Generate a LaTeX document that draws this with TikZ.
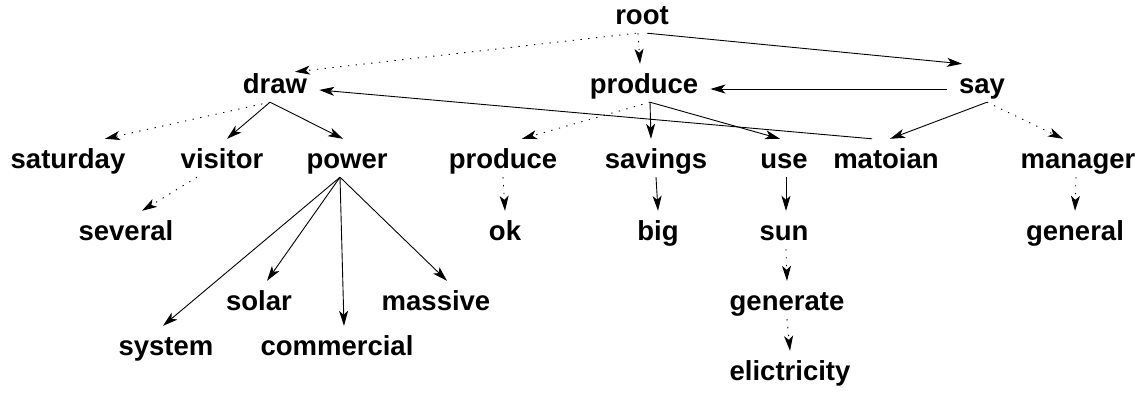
\documentclass[tikz,border=0pt]{standalone}
\usepackage{fontspec}
\setmainfont{Liberation Sans}
\usetikzlibrary{arrows.meta}
\tikzset{wd/.style={anchor=base,font=\fontsize{27.5}{30}\selectfont\bfseries,text height=20pt,text depth=0pt,minimum height=38pt,inner xsep=12pt,inner ysep=0pt},
arc/.style={-{Stealth[length=15pt,width=9pt,inset=4pt]},line width=0.9pt},
darc/.style={arc,dash pattern=on 1.3pt off 6.5pt}}

\begin{document}
\begin{tikzpicture}[x=1pt,y=-1pt]
\useasboundingbox(0,0)rectangle(1145,399);
\foreach\n/\x/\y/\t in{root/642/24/root,draw/275/93/draw,prod/644/93/produce,say/982/93/say,
saturday/68/168/saturday,visitor/222/168/visitor,power/347/168/power,prodb/503/168/produce,savings/656/168/savings,use/784/168/use,matoian/886/168/matoian,manager/1078/168/manager,
several/126/240/several,ok/505/240/ok,big/658/240/big,sun/784/240/sun,general/1075/240/general,
solar/259/310/solar,massive/436/310/massive,generate/787/310/generate,system/166/355/system,commercial/337/355/commercial,elictricity/790/380/elictricity}
\node[wd](\n)at(\x,\y){\t};
% solid dependencies
\foreach\a/\sa/\b/\sb in{draw/-5/visitor/5,draw/-5/power/-4,power/-7/system/-3,power/-7/solar/8,power/-7/commercial/7,power/-7/massive/11,
prod/6/savings/-5,prod/6/use/-4,say/5/matoian/4,savings/0/big/0,use/2/sun/2,root/5/say/-20}
\draw[arc]([xshift=\sa pt]\a.south)--([xshift=\sb pt]\b.north);
% dotted dependencies
\foreach\a/\sa/\b/\sb in{draw/-5/saturday/37,prod/6/prodb/19,say/5/manager/-15,visitor/-25/several/16,prodb/0/ok/0,
manager/-2/general/0,sun/2/generate/0,generate/0/elictricity/0,root/-4/prod/-4}
\draw[darc]([xshift=\sa pt]\a.south)--([xshift=\sb pt]\b.north);
\draw[darc]([xshift=-6pt]root.south)--([xshift=20pt,yshift=-8pt]draw.north);
\draw[arc]([yshift=-6pt]say.west)--([yshift=-6pt]prod.east);
\draw[arc]([xshift=-14pt]matoian.north)--([yshift=-7pt]draw.east);
\end{tikzpicture}
\end{document}
